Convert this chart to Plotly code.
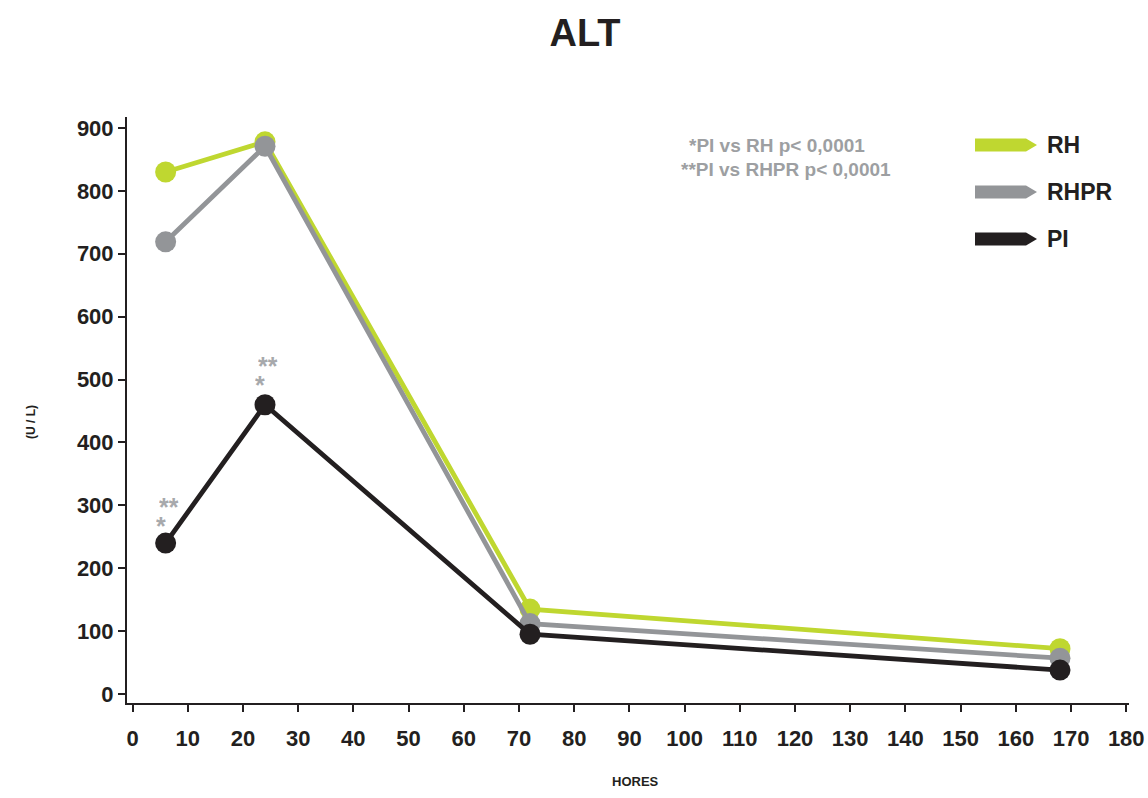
import plotly.graph_objects as go

# ALT levels (U/L) over time (hours)
hours = [6, 24, 72, 168]
rh = [830, 878, 135, 72]
rhpr = [719, 871, 112, 57]
pi = [240, 460, 95, 38]

series_names = ["RH", "RHPR", "PI"]
series_colors = ["#bfd730", "#939598", "#231f20"]
series_values = [rh, rhpr, pi]

x_ticks = list(range(0, 181, 10))
y_ticks = list(range(0, 901, 100))

FONT = "Liberation Sans, Arial, Helvetica, sans-serif"
DARK = "#231f20"
STAR = "#a7a9ac"

W, H = 1148, 798
L, R, T, B = 127, 19, 117, 95
PW, PH = W - L - R, H - T - B


def px(x):
    return (x - L) / PW


def py(y):
    return (H - B - y) / PH


fig = go.Figure()
for name, color, vals in zip(series_names, series_colors, series_values):
    fig.add_trace(go.Scatter(
        x=hours, y=vals, name=name, mode="lines+markers",
        line=dict(color=color, width=4.8),
        marker=dict(color=color, size=21, line=dict(width=0)),
        showlegend=False,
    ))

# significance marks above the first two PI points
annotations = []
for hx, hy, extra in zip(hours[:2], pi[:2], [1, 4]):
    annotations.append(dict(x=hx, y=hy, xref="x", yref="y", text="<b>**</b>",
                            showarrow=False, yshift=41 + extra, xshift=3,
                            height=16, valign="top",
                            font=dict(family=FONT, size=25, color=STAR)))
    annotations.append(dict(x=hx, y=hy, xref="x", yref="y", text="<b>*</b>",
                            showarrow=False, yshift=22 + extra, xshift=-5,
                            height=16, valign="top",
                            font=dict(family=FONT, size=25, color=STAR)))

# p-value notes
annotations.append(dict(x=px(687), y=py(145), xref="paper", yref="paper",
                        xanchor="left", yanchor="middle", showarrow=False,
                        text="<b>*PI vs RH p< 0,0001</b>",
                        font=dict(family=FONT, size=19, color="#9d9fa2")))
annotations.append(dict(x=px(679), y=py(169), xref="paper", yref="paper",
                        xanchor="left", yanchor="middle", showarrow=False,
                        text="<b>**PI vs RHPR p< 0,0001</b>",
                        font=dict(family=FONT, size=19, color="#9d9fa2")))

# legend: arrow swatches with labels
shapes = []
legend_y = [145, 192, 239]
for name, color, ly in zip(series_names, series_colors, legend_y):
    x0, x1, x2 = px(975), px(1026), px(1037)
    y0, y1, ym = py(ly - 6.5), py(ly + 6.5), py(ly)
    path = f"M {x0},{y0} L {x1},{y0} L {x2},{ym} L {x1},{y1} L {x0},{y1} Z"
    shapes.append(dict(type="path", path=path, xref="paper", yref="paper",
                       fillcolor=color, line=dict(width=0)))
    annotations.append(dict(x=px(1045), y=ym, xref="paper", yref="paper",
                            xanchor="left", yanchor="middle", showarrow=False,
                            text=f"<b>{name}</b>",
                            font=dict(family=FONT, size=23, color=DARK)))

# axis titles
annotations.append(dict(x=px(22), y=py(422), xref="paper", yref="paper",
                        showarrow=False, textangle=-90, text="<b>(U / L)</b>",
                        font=dict(family=FONT, size=12, color=DARK)))
annotations.append(dict(x=px(635), y=py(791), xref="paper", yref="paper",
                        showarrow=False, text="<b>HORES</b>",
                        font=dict(family=FONT, size=13, color=DARK)))

axis_common = dict(
    showgrid=False, zeroline=False, showline=True, automargin=False,
    linecolor=DARK, linewidth=2, ticks="outside", ticklen=7,
    tickwidth=1.5, tickcolor=DARK,
    tickfont=dict(family=FONT, size=22, color=DARK, weight="bold"),
)

fig.update_layout(
    width=W, height=H,
    margin=dict(l=L, r=R, t=T, b=B, pad=0, autoexpand=False),
    paper_bgcolor="white", plot_bgcolor="white",
    title=dict(text="<b>ALT</b>", x=585 / W, xanchor="center",
               y=1 - 33 / H, yanchor="middle", automargin=False,
               font=dict(family=FONT, size=38, color=DARK)),
    xaxis=dict(range=[-1.0, 180.5], tickvals=x_ticks,
               ticktext=[str(v) for v in x_ticks],
               ticklabelstandoff=8, **axis_common),
    yaxis=dict(range=[-14.3, 917.5], tickvals=y_ticks,
               ticktext=[str(v) for v in y_ticks], **axis_common),
    shapes=shapes,
    annotations=annotations,
)

fig.write_html("out.html")
